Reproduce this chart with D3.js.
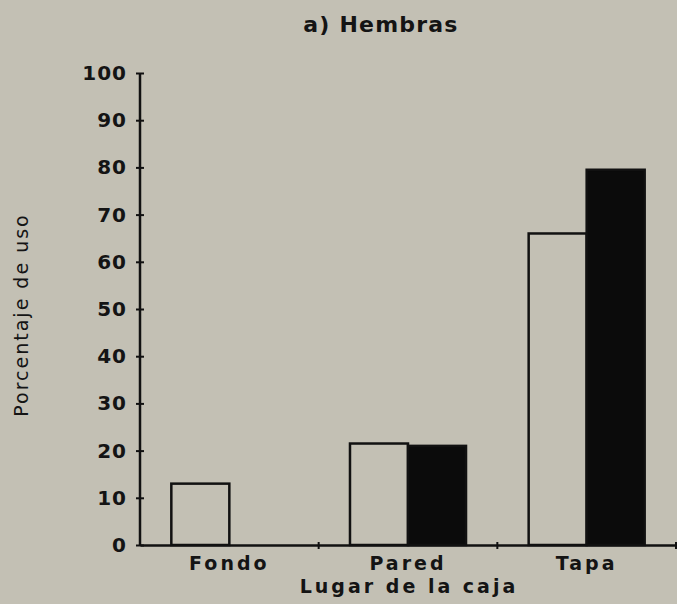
<!DOCTYPE html>
<html>
<head>
<meta charset="utf-8">
<script src="https://cdn.jsdelivr.net/npm/d3@7"></script>
<style>
  html, body { margin: 0; padding: 0; background: #c3c0b4; }
  svg { display: block; }
  text { font-family: "DejaVu Sans", sans-serif; fill: #141414; }
</style>
</head>
<body>
<svg id="chart" width="677" height="604"></svg>
<script>
// ---- data ----
const categories = ["Fondo", "Pared", "Tapa"];
const series = ["Serie blanca", "Serie negra"];
const whiteValues = [13, 21.5, 66];
const blackValues = [0, 21, 79.5];
const yTicks = [0, 10, 20, 30, 40, 50, 60, 70, 80, 90, 100];
const titleText = "a) Hembras";
const xLabel = "Lugar de la caja";
const yLabel = "Porcentaje de uso";

// ---- layout ----
const svg = d3.select("#chart");
const margin = { left: 140, right: 1, top: 73, bottom: 59 };
const W = 677, H = 604;

const x = d3.scaleBand().domain(categories).range([margin.left, W - margin.right]).padding(0);
const x1 = d3.scaleBand().domain(series).range([0, x.bandwidth()]).paddingInner(0).paddingOuter(0.54);
const y = d3.scaleLinear().domain([0, 100]).range([H - margin.bottom, margin.top]);

const rows = categories.map((c, i) => ({ cat: c, vals: [
  { s: series[0], v: whiteValues[i] },
  { s: series[1], v: blackValues[i] }
]}));

// bars
const g = svg.append("g");
rows.forEach(r => {
  r.vals.forEach(d => {
    if (d.v <= 0) return;
    g.append("rect")
      .attr("x", x(r.cat) + x1(d.s))
      .attr("y", y(d.v))
      .attr("width", x1.bandwidth())
      .attr("height", y(0) - y(d.v))
      .attr("fill", d.s === series[1] ? "#0b0b0b" : "none")
      .attr("stroke", "#111")
      .attr("stroke-width", 2.5);
  });
});

// y axis
const yAxis = svg.append("g")
  .attr("transform", `translate(${margin.left},0)`)
  .call(d3.axisLeft(y).tickValues(yTicks).tickFormat(d3.format("d")).tickSize(4).tickPadding(9));
yAxis.select(".domain").attr("stroke", "#111").attr("stroke-width", 2.5).attr("d", `M0,${y(0)}V${y(100)}`);
yAxis.selectAll(".tick line").attr("x1", -4).attr("x2", 4).attr("stroke", "#111").attr("stroke-width", 2);
yAxis.selectAll(".tick text")
  .style("font-family", "DejaVu Sans")
  .style("font-weight", "bold")
  .style("font-size", "20px")
  .style("letter-spacing", "1px")
  .attr("fill", "#141414");

// x axis
const xAxis = svg.append("g")
  .attr("transform", `translate(0,${y(0)})`)
  .call(d3.axisBottom(x).tickSize(0).tickPadding(12));
xAxis.select(".domain").attr("stroke", "#111").attr("stroke-width", 2.5);
xAxis.selectAll(".tick text")
  .style("font-family", "DejaVu Sans")
  .style("font-weight", "bold")
  .style("font-size", "19px")
  .style("letter-spacing", "3px")
  .attr("fill", "#141414");
// boundary tick marks
categories.forEach(c => {
  const bx = x(c) + x.bandwidth();
  xAxis.append("line")
    .attr("x1", bx).attr("x2", bx).attr("y1", -3).attr("y2", 4)
    .attr("stroke", "#111").attr("stroke-width", 2);
});

// title
svg.append("text")
  .attr("x", 381).attr("y", 32)
  .attr("text-anchor", "middle")
  .style("font-weight", "bold")
  .style("font-size", "22px")
  .style("letter-spacing", "1.2px")
  .text(titleText);

// x label
svg.append("text")
  .attr("x", 409).attr("y", 593)
  .attr("text-anchor", "middle")
  .style("font-weight", "bold")
  .style("font-size", "19px")
  .style("letter-spacing", "3px")
  .text(xLabel);

// y label
svg.append("text")
  .attr("transform", "translate(28,315) rotate(-90)")
  .attr("text-anchor", "middle")
  .style("font-size", "19px")
  .style("letter-spacing", "2px")
  .text(yLabel);
</script>
</body>
</html>
